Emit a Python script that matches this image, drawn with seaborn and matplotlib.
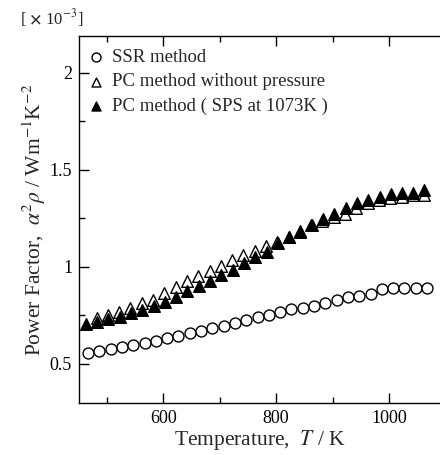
import numpy as np
import pandas as pd
import matplotlib
matplotlib.use("Agg")
import matplotlib.pyplot as plt
import seaborn as sns
from matplotlib.ticker import MultipleLocator, FuncFormatter

sns.set_theme(style="ticks")
plt.rcParams['font.family'] = ['Liberation Serif', 'DejaVu Serif']
plt.rcParams['mathtext.fontset'] = 'stix'

# Data (power factor in units of 1e-3 W m^-1 K^-2)
T_ssr = [467, 487, 507, 527, 547, 567, 587, 607, 627, 647, 667, 687, 707, 727, 747,
         767, 787, 807, 827, 847, 867, 887, 907, 927, 947, 967, 987, 1007, 1027, 1047, 1067]
pf_ssr = [0.558, 0.569, 0.576, 0.586, 0.600, 0.610, 0.620, 0.632, 0.646, 0.658, 0.672,
          0.684, 0.698, 0.713, 0.727, 0.741, 0.754, 0.770, 0.782, 0.787, 0.800, 0.816,
          0.830, 0.847, 0.851, 0.861, 0.885, 0.890, 0.890, 0.893, 0.890]

T_pc = [482, 502, 522, 542, 562, 582, 602, 622, 642, 662, 682, 702, 722, 742, 762,
        782, 802, 822, 842, 862, 882, 902, 922, 942, 962, 982, 1002, 1022, 1042, 1062]
pf_pc = [0.736, 0.753, 0.770, 0.787, 0.813, 0.830, 0.864, 0.895, 0.929, 0.954, 0.981,
         1.007, 1.036, 1.062, 1.084, 1.108, 1.130, 1.156, 1.182, 1.216, 1.239, 1.256,
         1.273, 1.302, 1.328, 1.345, 1.354, 1.362, 1.371, 1.371]

T_sps = [463, 483, 503, 523, 543, 563, 583, 603, 623, 643, 663, 683, 703, 723, 743,
         763, 783, 803, 823, 843, 863, 883, 903, 923, 943, 963, 983, 1003, 1023, 1043, 1062]
pf_sps = [0.706, 0.718, 0.732, 0.741, 0.761, 0.778, 0.799, 0.821, 0.847, 0.878, 0.902,
          0.929, 0.959, 0.985, 1.022, 1.050, 1.079, 1.122, 1.153, 1.187, 1.216, 1.246,
          1.273, 1.302, 1.328, 1.345, 1.362, 1.376, 1.380, 1.383, 1.397]

labels = ["SSR method", "PC method without pressure", "PC method ( SPS at 1073K )"]

df_ssr = pd.DataFrame({"T": T_ssr, "PF": pf_ssr})
df_pc = pd.DataFrame({"T": T_pc, "PF": pf_pc})
df_sps = pd.DataFrame({"T": T_sps, "PF": pf_sps})

fig = plt.figure(figsize=(4.40, 4.55), dpi=100)
ax = fig.add_axes([79/440, 1 - 403/455, 1 - 79/440, (403 - 36)/455])

sns.scatterplot(data=df_ssr, x="T", y="PF", ax=ax, marker="o", s=62,
                facecolor="white", edgecolor="black", linewidth=1.0, label=labels[0], zorder=3)
sns.scatterplot(data=df_pc, x="T", y="PF", ax=ax, marker="^", s=70,
                facecolor="white", edgecolor="black", linewidth=1.0, label=labels[1], zorder=3)
sns.scatterplot(data=df_sps, x="T", y="PF", ax=ax, marker="^", s=70,
                facecolor="black", edgecolor="black", linewidth=1.0, label=labels[2], zorder=4)

ax.set_xlim(451, 1090)
ax.set_ylim(0.299, 2.19)
ax.xaxis.set_major_locator(MultipleLocator(200))
ax.xaxis.set_minor_locator(MultipleLocator(100))
ax.yaxis.set_major_locator(MultipleLocator(0.5))
ax.yaxis.set_minor_locator(MultipleLocator(0.25))
ax.yaxis.set_major_formatter(FuncFormatter(lambda v, p: f"{v:g}"))

ax.tick_params(which="both", direction="in", top=True, right=False, colors="black",
               labelsize=13, width=1.0)
ax.tick_params(which="major", length=7, pad=5)
ax.tick_params(which="minor", length=4)

for s in ["left", "bottom", "top"]:
    ax.spines[s].set_color("black")
    ax.spines[s].set_linewidth(1.0)
ax.spines["right"].set_visible(False)

ax.set_xlabel("Temperature,  $T$ / K", fontsize=15.5, labelpad=1)
ax.set_ylabel("Power Factor,  $\\alpha^2\\rho$ / Wm$^{-1}$K$^{-2}$", fontsize=15.5)
ax.yaxis.set_label_coords(-0.085, 0.5)

fig.text(20/440, 1 - 18/455, "[ $\\mathbf{\\times}$ 10$^{-3}$]", fontsize=12, va="center", ha="left")

leg = ax.legend(loc="upper left", frameon=False, fontsize=13.5, handletextpad=0.35,
                borderaxespad=0.2, labelspacing=0.38, handlelength=1.0,
                bbox_to_anchor=(-0.01, 0.995))
for h in leg.legend_handles:
    h.set_sizes([42])

fig.savefig("out.png", dpi=100)
